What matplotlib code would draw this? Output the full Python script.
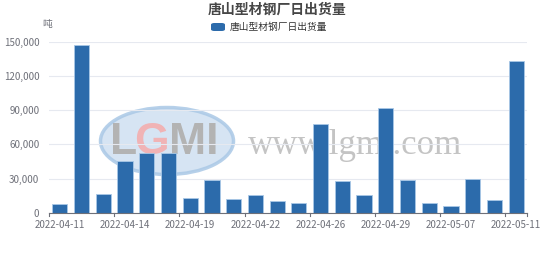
import matplotlib.pyplot as plt
from matplotlib.patches import Ellipse, FancyBboxPatch

plt.rcParams['font.family'] = ['Noto Sans CJK SC', 'DejaVu Sans']

dates = ['2022-04-11', '2022-04-12', '2022-04-13', '2022-04-14', '2022-04-15',
         '2022-04-18', '2022-04-19', '2022-04-20', '2022-04-21', '2022-04-22',
         '2022-04-24', '2022-04-25', '2022-04-26', '2022-04-27', '2022-04-28',
         '2022-04-29', '2022-05-05', '2022-05-06', '2022-05-07', '2022-05-09',
         '2022-05-10', '2022-05-11']
values = [7600, 147000, 16400, 45600, 52300, 52300, 13200, 28700, 11700, 15500,
          9900, 8800, 78100, 27800, 15200, 91500, 28900, 8500, 5800, 29800,
          11100, 132700]
yticks = [0, 30000, 60000, 90000, 120000, 150000]
title = '唐山型材钢厂日出货量'

fig = plt.figure(figsize=(5.54, 2.68), dpi=100)
ax = fig.add_axes([49/554, 55.3/268, 478/554, 171/268])

gray = '#6e7079'
xs = range(len(values))
ax.bar(xs, values, width=0.7, color='#2c6bab', edgecolor='#a9c8e6', linewidth=0.6, zorder=3)

ax.set_xlim(-0.5, len(values) - 0.5)
ax.set_ylim(0, 150000)
ax.set_yticks(yticks)
ax.set_yticklabels([f'{v:,}' for v in yticks], fontsize=7, color=gray)
ax.yaxis.grid(True, color='#e6e9f0', linewidth=0.8, zorder=0)
ax.tick_params(axis='y', length=0, pad=7)

# category labels every 3 bars, ticks on category boundaries
lab_pos = list(range(0, len(values), 3))
ax.set_xticks(lab_pos)
ax.set_xticklabels([dates[i] for i in lab_pos], fontsize=7, color=gray)
ax.tick_params(axis='x', length=0, pad=5)
for b in list(range(0, len(values), 3)) + [len(values)]:
    ax.plot([b - 0.5, b - 0.5], [0, -2500], color=gray, lw=0.8, clip_on=False, zorder=4)

for s in ['top', 'right', 'left']:
    ax.spines[s].set_visible(False)
ax.spines['bottom'].set_color(gray)
ax.spines['bottom'].set_linewidth(0.8)
ax.spines['bottom'].set_zorder(4)

# watermark
fig.patches.append(Ellipse((167/554, 1 - 141/268), 133/554, 67/268, transform=fig.transFigure,
                           facecolor='#cfe0f1', edgecolor='#aac8e6', lw=2.5, alpha=0.85, zorder=0))
fig.text(124/554, 1 - 143/268, 'L', fontsize=32, color='#b3b3b3', ha='center', va='center',
         family='Liberation Sans', fontweight='bold', zorder=0.5)
fig.text(151/554, 1 - 143/268, 'G', fontsize=32, color='#f0b3b5', ha='center', va='center',
         family='Liberation Sans', fontweight='bold', zorder=0.5)
fig.text(194/554, 1 - 143/268, 'MI', fontsize=32, color='#b3b3b3', ha='center', va='center',
         family='Liberation Sans', fontweight='bold', zorder=0.5)
fig.text(355/554, 1 - 146/268, 'www.lgmi.com', fontsize=25, color='#c4c4c4', ha='center',
         va='center', family='Liberation Serif', zorder=0.5)
ax.set_zorder(1)
ax.patch.set_alpha(0)

fig.text(0.5, 1 - 10/268, title, fontsize=10, fontweight='bold', color='#464646', ha='center', va='center')
fig.text(47/554, 1 - 24/268, '吨', fontsize=7, color=gray, ha='center', va='center')
fig.patches.append(FancyBboxPatch((211/554, 1 - 31/268), 14/554, 8/268, boxstyle='round,pad=0,rounding_size=0.006',
                                  transform=fig.transFigure, facecolor='#2c6bab', edgecolor='none'))
fig.text(230/554, 1 - 27/268, title, fontsize=7, color='#333333', ha='left', va='center')

fig.savefig('out.png', dpi=100)
